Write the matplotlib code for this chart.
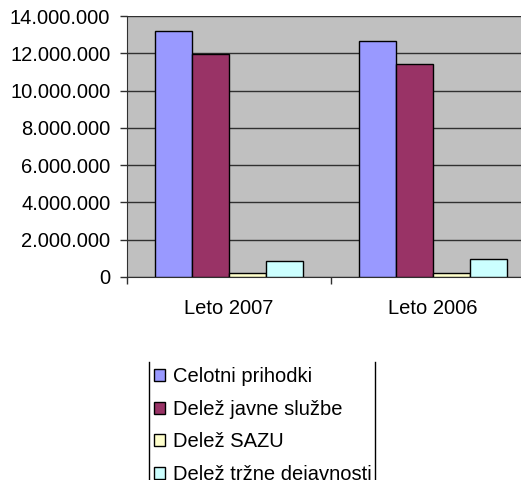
import numpy as np
import matplotlib
matplotlib.use('Agg')
import matplotlib.pyplot as plt
from matplotlib.lines import Line2D
from matplotlib.ticker import FuncFormatter

# Data.
categories = ['Leto 2007', 'Leto 2006']
series_names = ['Celotni prihodki', 'Delež javne službe', 'Delež SAZU',
                'Delež tržne dejavnosti']
celotni = [13200000, 12660000]
javna = [11980000, 11450000]
sazu = [200000, 200000]
trzna = [870000, 970000]
colors = ['#9999FF', '#993366', '#FFFFCC', '#CCFFFF']

plt.rcParams['font.family'] = ['Liberation Sans', 'DejaVu Sans']
fs = 14.5

fig = plt.figure(figsize=(5.21, 4.8), dpi=100)
ax = fig.add_axes([127 / 521, 1 - 277 / 480, 408 / 521, 261 / 480])
ax.set_facecolor('#C0C0C0')

x = np.arange(len(categories))
width = 0.181
values = [celotni, javna, sazu, trzna]
for i, (vals, name, col) in enumerate(zip(values, series_names, colors)):
    ax.bar(x + (i - 1.5) * width, vals, width, color=col, edgecolor='black',
           linewidth=1.0, label=name, zorder=3)

ax.set_xlim(-0.5, len(categories) - 0.5)
ax.set_ylim(0, 14000000)
ax.set_yticks(np.arange(0, 14000001, 2000000))
ax.yaxis.set_major_formatter(FuncFormatter(lambda v, p: f'{int(v):,}'.replace(',', '.')))
ax.grid(axis='y', color='#303030', linewidth=1.0, zorder=1)

ax.set_xticks(x)
ax.set_xticklabels(categories)
ax.set_xticks(np.arange(-0.5, len(categories)), minor=True)
ax.tick_params(axis='x', which='major', length=0, pad=16, labelsize=fs)
ax.tick_params(axis='x', which='minor', length=5, width=1, color='#303030')
ax.tick_params(axis='y', length=5, width=1, color='#303030', pad=7, labelsize=fs)

for s in ['top', 'right']:
    ax.spines[s].set_visible(False)
ax.spines['left'].set_color('#303030')
ax.spines['bottom'].set_color('#303030')

leg = fig.legend(loc='upper left', bbox_to_anchor=(154 / 521, 1 - 367 / 480),
                 frameon=False, fontsize=fs, handlelength=0.55,
                 handleheight=0.55, handletextpad=0.4, labelspacing=0.68,
                 borderpad=0, borderaxespad=0)
for h in leg.legend_handles:
    h.set_linewidth(1.0)
    h.set_edgecolor('black')

fig.add_artist(Line2D([149 / 521, 149 / 521], [1 - 362 / 480, 0], color='black',
                      linewidth=1.0, transform=fig.transFigure))
fig.add_artist(Line2D([375 / 521, 375 / 521], [1 - 362 / 480, 0], color='black',
                      linewidth=1.0, transform=fig.transFigure))

fig.savefig('out.png', dpi=100)
